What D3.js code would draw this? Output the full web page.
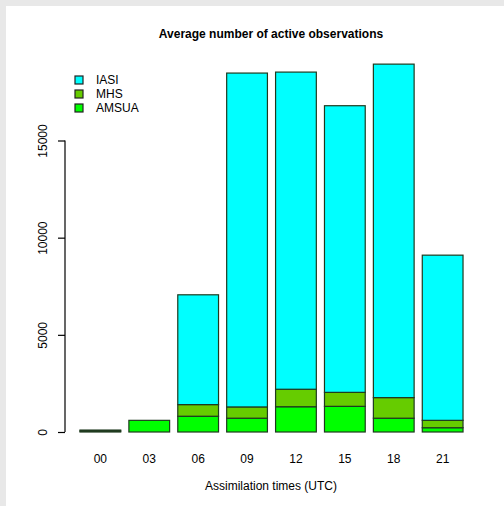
<!DOCTYPE html>
<html>
<head>
<meta charset="utf-8">
<script src="https://cdn.jsdelivr.net/npm/d3@7"></script>
<style>
  body { margin: 0; background: #e8e8e8; }
  svg { display: block; }
  text { font-family: "Liberation Sans", Arial, sans-serif; fill: #000; }
</style>
</head>
<body>
<svg></svg>
<script>
var width = 504;
var height = 506;

// data
var times = ['00', '03', '06', '09', '12', '15', '18', '21'];
var amsua = [50, 600, 810, 710, 1300, 1320, 710, 220];
var mhs = [50, 0, 600, 580, 900, 720, 1060, 380];
var iasi = [0, 0, 5650, 17180, 16320, 14750, 17160, 8500];
var seriesNames = ['IASI', 'MHS', 'AMSUA'];
var seriesColors = ['#00ffff', '#66cc00', '#00ff00'];
var yTicks = [0, 5000, 10000, 15000];

var svg = d3.select('svg')
    .attr('width', width)
    .attr('height', height);

// white panel
svg.append('rect')
    .attr('x', 6)
    .attr('y', 6)
    .attr('width', width - 6)
    .attr('height', height - 6)
    .style('fill', '#fff');

var x = d3.scaleBand()
    .domain(times)
    .range([75.9, 467.1])
    .paddingInner(1 / 6)
    .paddingOuter(1 / 12);

var y = d3.scaleLinear()
    .domain([0, 15000])
    .range([432, 140.5]);

// stack bottom to top: AMSUA, MHS, IASI
var rows = times.map(function(t, i) {
    return { time: t, AMSUA: amsua[i], MHS: mhs[i], IASI: iasi[i] };
});
var stack = d3.stack().keys(['AMSUA', 'MHS', 'IASI'])(rows);
var colorOf = { IASI: seriesColors[0], MHS: seriesColors[1], AMSUA: seriesColors[2] };

stack.forEach(function(layer) {
    svg.append('g')
        .selectAll('rect')
        .data(layer)
        .enter()
        .append('rect')
        .attr('x', function(d) { return x(d.data.time); })
        .attr('width', x.bandwidth())
        .attr('y', function(d) { return y(d[1]); })
        .attr('height', function(d) { return y(d[0]) - y(d[1]); })
        .style('fill', colorOf[layer.key])
        .style('stroke', '#1f3a1f')
        .style('stroke-width', 1.2);
});

// y axis, R style
var yAxis = svg.append('g')
    .attr('transform', 'translate(65,0)')
    .call(d3.axisLeft(y).tickValues(yTicks).tickSize(7).tickFormat(d3.format('d')));
yAxis.select('.domain').remove();
yAxis.selectAll('.tick line').style('stroke', '#000').style('stroke-width', 1.2);
yAxis.selectAll('.tick text')
    .attr('x', 0)
    .attr('dy', 0)
    .attr('transform', 'translate(-18,0) rotate(-90)')
    .attr('text-anchor', 'middle')
    .style('font-size', '12px');
yAxis.append('line')
    .attr('y1', y(0))
    .attr('y2', y(15000))
    .style('stroke', '#000')
    .style('stroke-width', 1.2);

// category labels
svg.append('g')
    .selectAll('text')
    .data(times)
    .enter()
    .append('text')
    .attr('x', function(d) { return x(d) + x.bandwidth() / 2; })
    .attr('y', 463)
    .attr('text-anchor', 'middle')
    .style('font-size', '12px')
    .text(function(d) { return d; });

svg.append('text')
    .attr('x', 271)
    .attr('y', 38)
    .attr('text-anchor', 'middle')
    .style('font-size', '12px')
    .style('font-weight', 'bold')
    .text('Average number of active observations');

svg.append('text')
    .attr('x', 271)
    .attr('y', 490)
    .attr('text-anchor', 'middle')
    .style('font-size', '12px')
    .text('Assimilation times (UTC)');

// legend
var legend = svg.append('g');
seriesNames.forEach(function(name, i) {
    legend.append('rect')
        .attr('x', 75)
        .attr('y', 76 + i * 14)
        .attr('width', 8)
        .attr('height', 8)
        .style('fill', seriesColors[i])
        .style('stroke', '#222')
        .style('stroke-width', 1.2);
    legend.append('text')
        .attr('x', 96)
        .attr('y', 84 + i * 14)
        .style('font-size', '12px')
        .text(name);
});
</script>
</body>
</html>
